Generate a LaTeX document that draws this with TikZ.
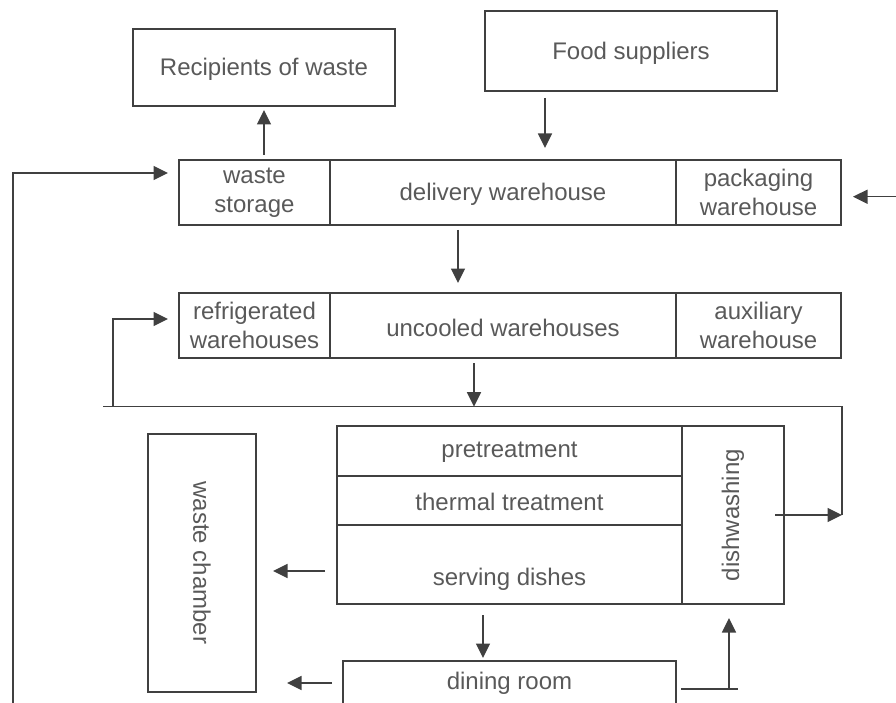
\documentclass[tikz,border=0pt]{standalone}
\usepackage{fontspec}
\setmainfont{Liberation Sans}
\usetikzlibrary{arrows.meta}
\definecolor{linec}{RGB}{64,64,64}
\definecolor{textc}{RGB}{89,89,89}
\begin{document}
\begin{tikzpicture}[x=1pt,y=-1pt,
  box/.style={draw=linec,line width=1.4pt,rectangle,inner sep=0pt,align=center,
    text=textc,font=\fontsize{24}{29}\selectfont},
  txt/.style={inner sep=0pt,align=center,text=textc,font=\fontsize{24}{29}\selectfont},
  conn/.style={draw=linec,line width=1.4pt},
  arr/.style={conn,-{Triangle[length=14.5pt,width=14pt]}}]
\useasboundingbox (0,0) rectangle (896,703);
\clip (0,0) rectangle (896,703);
% top boxes
\node[box,minimum width=262,minimum height=77] (rec) at (264,67.5) {};
\node[txt] (rect) at (264,69) {Recipients of waste};
\node[box,minimum width=292,minimum height=80] (food) at (631,51) {};
\node[txt] (foodt) at (631,53) {Food suppliers};
% row 1
\node[box,minimum width=151,minimum height=65] (ws) at (254.5,192.5) {waste\\storage};
\node[box,minimum width=346,minimum height=65] (dw) at (503,192.5) {};
\node[txt] (dwt) at (503,194) {delivery warehouse};
\node[box,minimum width=165,minimum height=65] (pw) at (758.5,192.5) {packaging\\warehouse};
% row 2
\node[box,minimum width=151,minimum height=65] (rw) at (254.5,325.5) {refrigerated\\warehouses};
\node[box,minimum width=346,minimum height=65] (uw) at (503,325.5) {};
\node[txt] (uwt) at (503,327.5) {uncooled warehouses};
\node[box,minimum width=165,minimum height=65] (aw) at (758.5,325.5) {auxiliary\\warehouse};
% process block
\node[box,minimum width=345,minimum height=50] (pre) at (509.5,451) {};
\node[txt] (pret) at (509.5,452) {pretreatment};
\node[box,minimum width=345,minimum height=49] (th) at (509.5,500.5) {};
\node[txt] (tht) at (509.5,501.5) {thermal treatment};
\node[box,minimum width=345,minimum height=79] (sv) at (509.5,564.5) {};
\node[txt] (svt) at (509.5,579) {serving dishes};
\node[box,rotate=90,minimum width=178,minimum height=102] (dish) at (733,515) {dishwashing};
% waste chamber
\node[box,rotate=-90,minimum width=258,minimum height=108] (wc) at (202,563) {waste chamber};
% dining room
\node[box,minimum width=333,minimum height=49] (din) at (509.5,685.5) {};
\node[txt] (dint) at (509.5,683) {dining room};
% connector points
\coordinate (L0) at (13,710);
\coordinate (L1) at (168,173);
\coordinate (P0) at (896,196.7);
\coordinate (P1) at (853,196.7);
\coordinate (R0) at (264,155);
\coordinate (R1) at (264,110);
\coordinate (F0) at (545,98);
\coordinate (F1) at (545,148);
\coordinate (D0) at (458,230);
\coordinate (D1) at (458,283);
\coordinate (U0) at (474,363);
\coordinate (U1) at (474,406.7);
\coordinate (H0) at (103,406.7);
\coordinate (H1) at (842,406.7);
\coordinate (H2) at (842,515);
\coordinate (W0) at (775,515);
\coordinate (K0) at (113,406.7);
\coordinate (K1) at (168,319);
\coordinate (S0) at (325,571);
\coordinate (S1) at (273,571);
\coordinate (G0) at (332,683);
\coordinate (G1) at (287,683);
\coordinate (V0) at (483,615);
\coordinate (V1) at (483,658);
\coordinate (T0) at (681,689);
\coordinate (T1) at (738,689);
\coordinate (T2) at (729,689);
\coordinate (T3) at (729,618);
% connectors
\draw[arr] (L0) |- (L1);
\draw[arr] (P0) -- (P1);
\draw[arr] (R0) -- (R1);
\draw[arr] (F0) -- (F1);
\draw[arr] (D0) -- (D1);
\draw[arr] (U0) -- (U1);
\draw[conn] (H0) -- (H1) -- (H2);
\draw[arr] (W0) -- (H2);
\draw[arr] (K0) |- (K1);
\draw[arr] (S0) -- (S1);
\draw[arr] (G0) -- (G1);
\draw[arr] (V0) -- (V1);
\draw[conn] (T0) -- (T1);
\draw[arr] (T2) -- (T3);
\end{tikzpicture}
\end{document}
